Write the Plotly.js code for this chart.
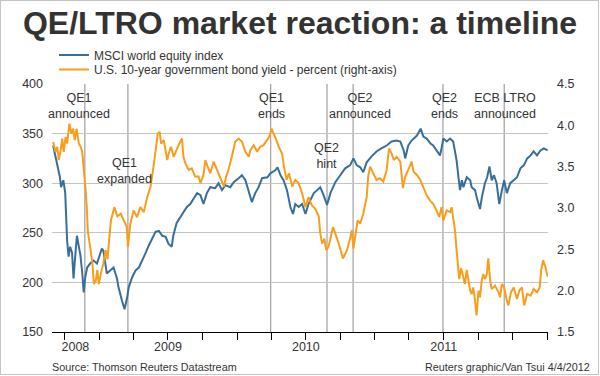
<!DOCTYPE html>
<html>
<head>
<meta charset="utf-8">
<script src="https://cdn.plot.ly/plotly-3.0.1.min.js"></script>
<style>
  html, body { margin: 0; padding: 0; background: #fff; }
  #wrap { position: relative; width: 600px; height: 376px; }
  #chart { position: absolute; left: 0; top: 0; width: 600px; height: 376px; }
  #frame { position: absolute; left: 0; top: 0; width: 597px; height: 373px; border: 1px solid #c4c4c4; pointer-events: none; }
</style>
</head>
<body>
<div id="wrap"><div id="chart"></div><div id="frame"></div></div>
<script>
// ---------------- data ----------------
const msciDates = [
  '2008-09-01','2008-09-07','2008-09-15','2008-09-19','2008-09-22','2008-09-28',
  '2008-10-03','2008-10-06','2008-10-08','2008-10-12','2008-10-16','2008-10-21','2008-10-25','2008-10-30',
  '2008-11-03','2008-11-08','2008-11-12','2008-11-17','2008-11-21','2008-11-25','2008-11-30',
  '2008-12-08','2008-12-17','2008-12-26',
  '2009-01-04','2009-01-08','2009-01-12','2009-01-21','2009-01-30',
  '2009-02-08','2009-02-17','2009-02-21',
  '2009-03-02','2009-03-09','2009-03-16','2009-03-20','2009-03-29',
  '2009-04-07','2009-04-16','2009-04-25',
  '2009-05-03','2009-05-12','2009-05-21','2009-05-30',
  '2009-06-08','2009-06-17','2009-06-26',
  '2009-07-03','2009-07-12','2009-07-16','2009-07-25',
  '2009-08-08','2009-08-21','2009-08-30',
  '2009-09-08','2009-09-17','2009-09-26',
  '2009-10-04','2009-10-13','2009-10-22',
  '2009-11-04','2009-11-13','2009-11-22',
  '2009-12-01','2009-12-14','2009-12-23',
  '2010-01-05','2010-01-14','2010-01-23',
  '2010-02-01','2010-02-09','2010-02-18','2010-02-27',
  '2010-03-08','2010-03-22','2010-03-30',
  '2010-04-12','2010-04-18','2010-04-26',
  '2010-05-04','2010-05-13','2010-05-22','2010-05-29',
  '2010-06-04','2010-06-13','2010-06-22',
  '2010-07-01','2010-07-09','2010-07-23',
  '2010-08-01','2010-08-09','2010-08-18','2010-08-27',
  '2010-09-05','2010-09-18',
  '2010-10-01','2010-10-14','2010-10-27',
  '2010-11-05','2010-11-14','2010-11-23',
  '2010-12-01','2010-12-10','2010-12-23',
  '2011-01-05','2011-01-18',
  '2011-02-01','2011-02-14','2011-02-27',
  '2011-03-09','2011-03-18','2011-03-22','2011-03-30',
  '2011-04-08','2011-04-22',
  '2011-05-02','2011-05-09','2011-05-18','2011-05-28',
  '2011-06-04','2011-06-13','2011-06-22','2011-06-26',
  '2011-07-01','2011-07-10','2011-07-19','2011-07-27',
  '2011-08-01','2011-08-05','2011-08-10','2011-08-14','2011-08-19','2011-08-23',
  '2011-09-01','2011-09-10','2011-09-14','2011-09-23','2011-09-27',
  '2011-10-02','2011-10-06','2011-10-11','2011-10-19','2011-10-25','2011-10-31',
  '2011-11-06','2011-11-12','2011-11-19','2011-11-26',
  '2011-12-03','2011-12-09','2011-12-16','2011-12-25',
  '2012-01-03','2012-01-12','2012-01-21','2012-01-30',
  '2012-02-08','2012-02-17','2012-02-25',
  '2012-03-05','2012-03-14','2012-03-23',
  '2012-04-02'
];
const msciValues = [
  338,327,313,306,296,303,
  290,262,242,226,236,230,204,229,
  247,236,228,210,190,205,215,
  219,222,219,
  229,234,232,209,212,
  215,204,195,
  182,173,185,195,205,
  212,215,222,
  229,237,244,251,
  252,247,246,
  239,236,247,260,
  269,276,279,
  284,290,288,
  279,290,296,
  295,300,293,
  298,296,301,
  305,308,303,
  290,281,290,296,
  305,306,310,
  313,316,308,
  303,293,276,269,
  279,276,279,
  269,279,290,
  293,296,288,278,
  290,301,
  308,315,318,
  325,318,316,
  311,321,327,
  332,335,
  338,342,343,
  342,333,325,338,
  343,348,
  355,347,345,340,
  338,333,328,335,
  345,342,345,342,
  333,323,306,293,303,296,
  306,303,296,293,286,
  279,274,286,300,306,317,
  303,308,300,279,
  293,303,290,300,
  303,306,315,318,
  325,328,332,
  328,333,335,
  333
];

const yieldDates = [
  '2008-09-01','2008-09-07','2008-09-12','2008-09-16','2008-09-21','2008-09-25','2008-09-29',
  '2008-10-04','2008-10-08','2008-10-14','2008-10-19','2008-10-24','2008-10-28',
  '2008-11-02','2008-11-08','2008-11-13','2008-11-17','2008-11-21','2008-11-26','2008-11-29',
  '2008-12-02','2008-12-08','2008-12-14','2008-12-18','2008-12-23','2008-12-27','2008-12-31',
  '2009-01-05','2009-01-12','2009-01-18','2009-01-23','2009-01-27',
  '2009-02-01','2009-02-10','2009-02-18','2009-02-27',
  '2009-03-06','2009-03-15','2009-03-18','2009-03-24',
  '2009-04-02','2009-04-11','2009-04-20','2009-04-29',
  '2009-05-08','2009-05-17','2009-05-26','2009-05-30',
  '2009-06-05','2009-06-10','2009-06-14','2009-06-21','2009-06-26','2009-06-30',
  '2009-07-04','2009-07-10','2009-07-17','2009-07-24','2009-07-30',
  '2009-08-08','2009-08-12','2009-08-17','2009-08-26',
  '2009-09-03','2009-09-12','2009-09-21','2009-09-26',
  '2009-10-04','2009-10-09','2009-10-15','2009-10-22','2009-10-31',
  '2009-11-09','2009-11-18','2009-11-27',
  '2009-12-03','2009-12-09','2009-12-18','2009-12-27',
  '2010-01-05','2010-01-14','2010-01-23',
  '2010-02-01','2010-02-05','2010-02-14','2010-02-23',
  '2010-03-03','2010-03-12','2010-03-21','2010-03-27',
  '2010-04-02','2010-04-08','2010-04-15','2010-04-21','2010-04-30',
  '2010-05-05','2010-05-12','2010-05-18','2010-05-27',
  '2010-06-04','2010-06-13','2010-06-22',
  '2010-07-01','2010-07-09','2010-07-18','2010-07-27',
  '2010-08-05','2010-08-09','2010-08-14','2010-08-20','2010-08-25','2010-08-31',
  '2010-09-05','2010-09-12','2010-09-18','2010-09-27',
  '2010-10-08','2010-10-19','2010-10-28',
  '2010-11-01','2010-11-05','2010-11-10','2010-11-16','2010-11-23',
  '2010-12-01','2010-12-10','2010-12-14','2010-12-19','2010-12-27',
  '2011-01-05','2011-01-14','2011-01-23',
  '2011-02-01','2011-02-07','2011-02-14','2011-02-20','2011-02-27',
  '2011-03-09','2011-03-16','2011-03-22','2011-03-30',
  '2011-04-08','2011-04-13','2011-04-22',
  '2011-05-01','2011-05-09','2011-05-18','2011-05-27',
  '2011-06-04','2011-06-13','2011-06-20','2011-06-26',
  '2011-07-01','2011-07-10','2011-07-19','2011-07-23','2011-07-27',
  '2011-08-01','2011-08-05','2011-08-10','2011-08-12','2011-08-17','2011-08-23','2011-08-27',
  '2011-09-01','2011-09-05','2011-09-10','2011-09-14','2011-09-18','2011-09-23','2011-09-27',
  '2011-10-02','2011-10-06','2011-10-11','2011-10-15','2011-10-19','2011-10-24','2011-10-28',
  '2011-11-02','2011-11-06','2011-11-15','2011-11-24','2011-11-28',
  '2011-12-03','2011-12-09','2011-12-16','2011-12-20','2011-12-27',
  '2012-01-03','2012-01-12','2012-01-18','2012-01-25','2012-01-31',
  '2012-02-08','2012-02-17','2012-02-25',
  '2012-03-05','2012-03-12','2012-03-16','2012-03-21','2012-03-27',
  '2012-04-02'
];
const yieldValues = [
  3.80,3.68,3.74,3.58,3.70,3.84,3.68,
  3.86,3.78,4.02,3.90,3.96,3.82,
  3.96,3.78,3.74,3.68,3.50,3.22,3.01,
  2.71,2.53,2.33,2.08,2.12,2.25,2.08,
  2.20,2.33,2.49,2.38,2.60,
  2.85,3.01,2.90,2.93,
  2.85,2.77,2.53,2.80,
  2.97,2.89,3.01,2.95,
  3.13,3.26,3.54,3.70,
  3.90,3.92,3.78,3.82,3.70,3.58,
  3.66,3.74,3.62,3.70,3.76,
  3.84,3.62,3.54,3.46,
  3.48,3.38,3.38,3.30,
  3.40,3.58,3.50,3.42,3.56,
  3.46,3.34,3.26,
  3.38,3.46,3.62,3.80,
  3.84,3.80,3.68,
  3.62,3.70,3.76,3.68,
  3.74,3.76,3.82,3.86,
  3.96,3.90,3.82,3.74,3.66,
  3.50,3.34,3.42,3.26,
  3.34,3.30,3.18,
  3.01,3.13,3.03,2.99,
  2.90,2.70,2.57,2.63,2.49,2.53,
  2.65,2.77,2.69,2.57,
  2.39,2.49,2.65,
  2.73,2.51,2.69,2.85,2.81,
  2.93,3.13,3.38,3.50,3.42,
  3.34,3.36,3.32,
  3.46,3.72,3.66,3.58,3.62,
  3.56,3.24,3.38,3.46,
  3.56,3.44,3.40,
  3.34,3.26,3.15,3.09,
  3.05,2.97,2.89,3.01,
  2.85,2.97,2.95,3.01,2.87,
  2.72,2.49,2.29,2.14,2.27,2.17,2.08,
  2.25,2.14,2.00,1.96,2.04,1.88,1.70,
  2.00,1.92,2.14,2.20,2.14,2.20,2.39,
  2.12,2.02,2.06,1.98,1.92,
  2.08,2.04,1.88,1.82,1.98,
  2.04,1.90,2.00,2.04,1.82,
  1.96,1.94,2.02,
  1.98,2.04,2.25,2.37,2.29,
  2.17
];

const eventDates  = ['2008-11-24','2009-03-18','2010-03-31','2010-08-27','2010-11-04','2011-06-30','2011-12-09'];
const eventLabels = ['QE1<br>announced','QE1<br>expanded','QE1<br>ends','QE2<br>hint','QE2<br>announced','QE2<br>ends','ECB LTRO<br>announced'];

const leftTicks    = [150, 200, 250, 300, 350, 400];
const rightTicks   = [1.5, 2.0, 2.5, 3.0, 3.5, 4.0, 4.5];
const quarterTicks = ['2008-10-01','2009-01-01','2009-04-01','2009-07-01','2009-10-01','2010-01-01','2010-04-01',
                      '2010-07-01','2010-10-01','2011-01-01','2011-04-01','2011-07-01','2011-10-01','2012-01-01','2012-04-01'];
const yearTickVals = ['2008-10-30','2009-07-02','2010-07-02','2011-07-02'];
const yearTickText = ['2008','2009','2010','2011'];

const seriesNames = ['MSCI world equity index', 'U.S. 10-year government bond yield - percent (right-axis)'];
const titleText  = 'QE/LTRO market reaction: a timeline';
const sourceText = 'Source: Thomson Reuters Datastream';
const creditText = 'Reuters graphic/Van Tsui 4/4/2012';

// ---------------- layout / styling ----------------
const FONT = 'Liberation Sans, Arial, Helvetica, sans-serif';
const TXT = '#333333';
const BLUE = '#386f99';
const ORANGE = '#f99d1c';

// label placement (pixels): horizontal shift from event line, vertical centre
const labelShift = [-6, -3, 1, -1, 7, 2, 1];
const labelY = [105.5, 170.5, 105.5, 156, 105.5, 105.5, 105.5];

const M = {l: 52, r: 52, t: 84, b: 44};
const plotH = 376 - M.t - M.b;
const py = px => (376 - M.b - px) / plotH;   // pixel row -> paper y

const traces = [
  {x: msciDates, y: msciValues, name: seriesNames[0], type: 'scatter', mode: 'lines',
   line: {color: BLUE, width: 2}, yaxis: 'y', legend: 'legend'},
  {x: yieldDates, y: yieldValues, name: seriesNames[1], type: 'scatter', mode: 'lines',
   line: {color: ORANGE, width: 2}, yaxis: 'y2', legend: 'legend2'}
];

const shapes = eventDates.map(d => ({
  type: 'line', xref: 'x', yref: 'paper', x0: d, x1: d, y0: 0, y1: 1,
  line: {color: '#8c8c8c', width: 1}, layer: 'below'
}));

const annotations = eventLabels.map((t, i) => ({
  text: t, x: eventDates[i], xref: 'x', y: py(labelY[i]), yref: 'paper',
  xanchor: 'center', yanchor: 'middle', xshift: labelShift[i], showarrow: false,
  font: {family: FONT, size: 12.5, color: TXT}
}));
annotations.push({text: sourceText, x: 0, xref: 'paper', y: py(367), yref: 'paper',
  xanchor: 'left', yanchor: 'middle', showarrow: false, xshift: -2,
  font: {family: FONT, size: 10.8, color: TXT}});
annotations.push({text: creditText, x: (590 - M.l) / 496, xref: 'paper', y: py(367), yref: 'paper',
  xanchor: 'right', yanchor: 'middle', showarrow: false, xshift: 2,
  font: {family: FONT, size: 10.8, color: TXT}});

const legendBase = {
  xref: 'paper', x: 0.004, xanchor: 'left', yanchor: 'middle',
  bgcolor: 'rgba(0,0,0,0)', borderwidth: 0,
  font: {family: FONT, size: 12, color: TXT}
};

const layout = {
  width: 600, height: 376,
  margin: M,
  paper_bgcolor: '#ffffff', plot_bgcolor: '#ffffff',
  font: {family: FONT, color: TXT},
  title: {
    text: titleText, x: 0.5, xref: 'container', xanchor: 'center',
    y: 1 - 23 / 376, yref: 'container', yanchor: 'middle',
    font: {family: FONT, size: 32, weight: 'bold', color: '#333333'}
  },
  showlegend: true,
  legend: Object.assign({}, legendBase, {y: py(55)}),
  legend2: Object.assign({}, legendBase, {y: py(69.5)}),
  xaxis: {
    type: 'date', range: ['2008-08-29', '2012-04-03'],
    showgrid: false, zeroline: false,
    showline: true, linecolor: '#000', linewidth: 1,
    tickmode: 'array', tickvals: yearTickVals, ticktext: yearTickText,
    ticks: '', ticklabelstandoff: 3,
    minor: {tickmode: 'array', tickvals: quarterTicks, ticks: 'outside', ticklen: 7,
            tickwidth: 1, tickcolor: '#000', showgrid: false},
    tickfont: {family: FONT, size: 12.5, color: TXT}
  },
  yaxis: {
    range: [150, 400], tickmode: 'array', tickvals: leftTicks,
    showgrid: true, gridcolor: '#c4c4c4', gridwidth: 1,
    zeroline: false, showline: false, ticks: '', ticklabelstandoff: 8,
    tickfont: {family: FONT, size: 12.5, color: TXT}
  },
  yaxis2: {
    range: [1.5, 4.5], overlaying: 'y', side: 'right',
    tickmode: 'array', tickvals: rightTicks, tickformat: '.1f',
    showgrid: false, zeroline: false, showline: false, ticks: '', ticklabelstandoff: 8,
    tickfont: {family: FONT, size: 12.5, color: TXT}
  },
  shapes: shapes,
  annotations: annotations
};

Plotly.newPlot('chart', traces, layout, {displayModeBar: false, staticPlot: true});
</script>
</body>
</html>
